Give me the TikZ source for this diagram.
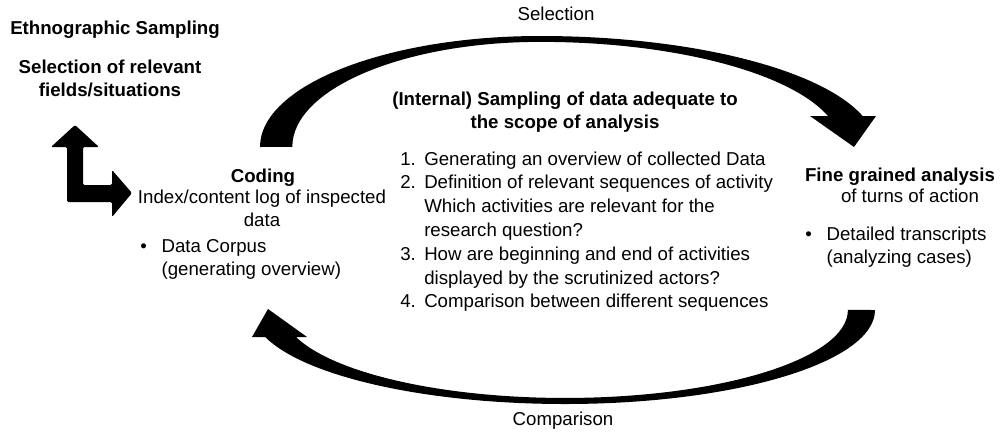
\documentclass[tikz,border=0pt]{standalone}
\usepackage{fontspec}
\setmainfont{Liberation Sans}
\usetikzlibrary{positioning}
\tikzset{
  lbl/.style={font=\fontsize{14}{17}\selectfont, inner sep=0pt},
  hdr/.style={font=\fontsize{14}{17}\selectfont\bfseries, inner sep=0pt},
  bigarrow/.style={fill=black},
}
\newcommand{\bul}{\makebox[16pt][l]{\textbullet}}
\newcommand{\ind}{\hspace*{16pt}}

\begin{document}
\begin{tikzpicture}[x=0.75pt,y=-0.75pt]
  \fill[white] (0,0) rectangle (1000,433);
  \useasboundingbox (0,0) rectangle (1000,433);

  % left column
  \node [hdr, anchor=base west] (ethno) at (10,34) {Ethnographic Sampling};
  \node [hdr, anchor=base, align=center] (fields) at (110,96) {Selection of relevant\\fields/situations};
  \fill [bigarrow, rounded corners=1pt] (75,125) -- (99,147) -- (83,147) -- (83,185) -- (112,185) -- (112,170) -- (132,193) -- (112,217) -- (112,202) -- (67,202) -- (67,147) -- (51,147) -- cycle;

  % coding
  \node [hdr, anchor=base] (coding) at (263,182) {Coding};
  \node [lbl, anchor=base, align=center] (codingtxt) at (262,226) {Index/content log of inspected\\data};
  \node [lbl, anchor=base west, align=left] (corpus) at (140,275) {\bul Data Corpus\\\ind(generating overview)};

  % the loop
  \fill [bigarrow] (260,147) arc[start angle=180, end angle=270, x radius=280, y radius=111] arc[start angle=270, end angle=343.8, x radius=336, y radius=111] -- (876,116) -- (854,147) -- (810,116) -- (828,116) arc[start angle=342.9, end angle=270, x radius=301, y radius=105] arc[start angle=270, end angle=180, x radius=248, y radius=105] -- cycle;
  \fill [bigarrow] (875,310) arc[start angle=0, end angle=90, x radius=310, y radius=94] arc[start angle=90, end angle=163.3, x radius=313, y radius=94] -- (252,337) -- (268,309) -- (307,337) -- (296,337) arc[start angle=162.1, end angle=90, x radius=282.6, y radius=88] arc[start angle=90, end angle=0, x radius=283, y radius=88] -- cycle;
  \node [lbl, anchor=base] (selection) at (556,20) {Selection};
  \node [lbl, anchor=base] (comparison) at (563,425) {Comparison};

  % internal sampling
  \node [hdr, anchor=base, align=center] (internal) at (565,128) {(Internal) Sampling of data adequate to\\the scope of analysis};
  \foreach \num/\txt [count=\i from 0] in {1./Generating an overview of collected Data, 2./Definition of relevant sequences of activity, /Which activities are relevant for the, /research question?, 3./How are beginning and end of activities, /displayed by the scrutinized actors?, 4./Comparison between different sequences}
    \node [lbl, anchor=base west] (step\i) at (400,165+23.8*\i) {\makebox[18pt][l]{\num}\txt};

  % fine grained analysis
  \node [hdr, anchor=base] (fine) at (900,181) {Fine grained analysis};
  \node [lbl, anchor=base] (finetxt) at (910,202) {of turns of action};
  \node [lbl, anchor=base west, align=left] (transcripts) at (805,263) {\bul Detailed transcripts\\\ind(analyzing cases)};
\end{tikzpicture}
\end{document}
